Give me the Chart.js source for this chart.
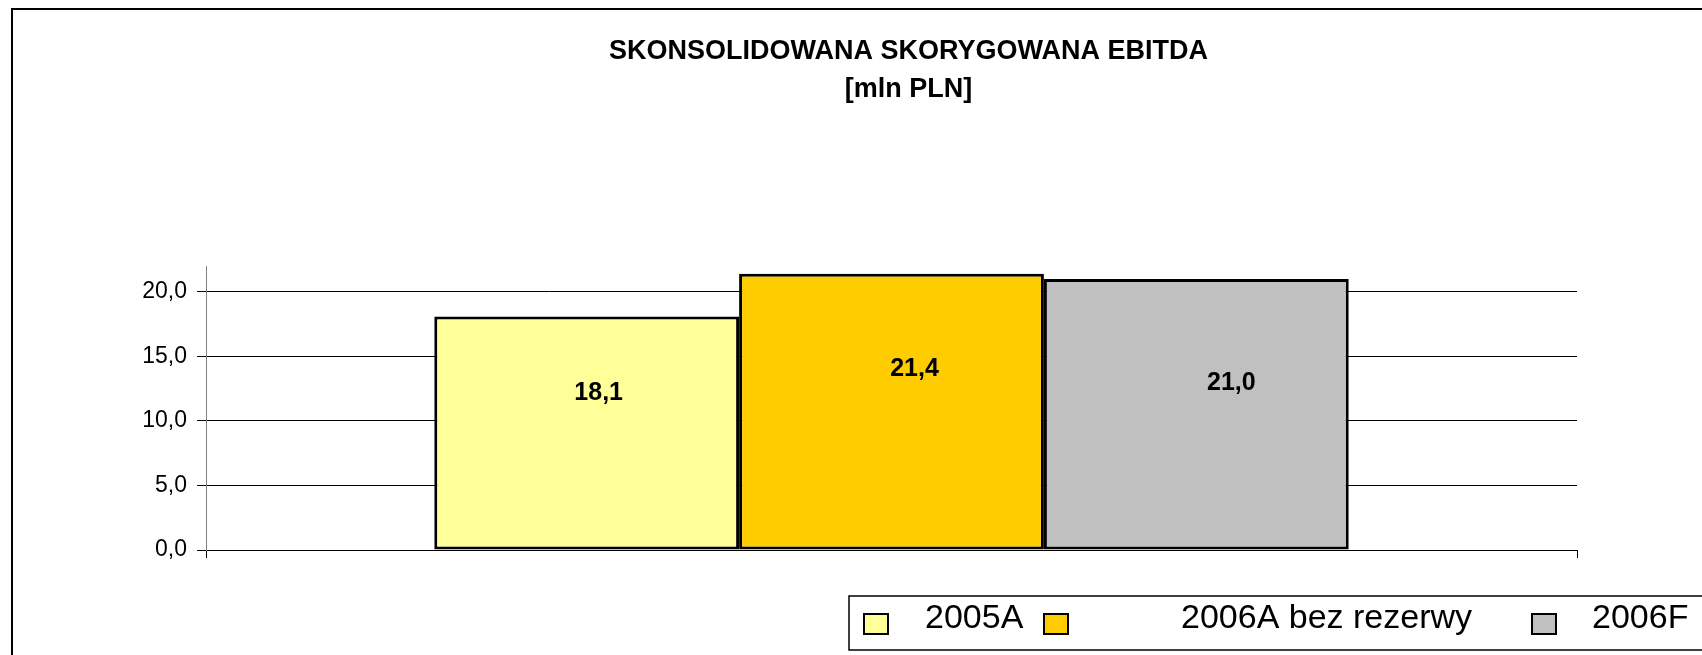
<!DOCTYPE html>
<html>
<head>
<meta charset="utf-8">
<script src="https://cdn.jsdelivr.net/npm/chart.js@4/dist/chart.umd.min.js"></script>
<style>
    html, body { margin: 0; padding: 0; background: #fff; overflow: hidden; }
    #frame {
        position: absolute; left: 11px; top: 8px;
        border-top: 2px solid #000; border-left: 2px solid #000;
        width: 1791px; height: 700px;
    }
    #ebitdaChart { display: block; }
</style>
</head>
<body>
<div id="frame"><canvas id="ebitdaChart" width="1791" height="700"></canvas></div>
<script>
// --- Data ---
const categories = [''];
const seriesNames = ['2005A', '2006A bez rezerwy', '2006F'];
const seriesValues = [18.1, 21.4, 21.0];
const seriesColors = ['#FFFF99', '#FFCC00', '#C0C0C0'];
const titleLines = ['SKONSOLIDOWANA SKORYGOWANA EBITDA', '[mln PLN]'];
const yMax = 22;
const yStep = 5;

const FONT = '"Liberation Sans", Arial, sans-serif';
const fmt = v => v.toFixed(1).replace('.', ',');

// value labels inside the bars (the original ones were nudged by hand)
const valueLabels = {
    id: 'valueLabels',
    afterDatasetsDraw(chart) {
        const ctx = chart.ctx;
        const nudge = [[12, 0], [23, -3], [35, 9]];
        ctx.save();
        ctx.font = 'bold 25px ' + FONT;
        ctx.fillStyle = '#000';
        ctx.textAlign = 'center';
        ctx.textBaseline = 'middle';
        chart.data.datasets.forEach((ds, i) => {
            const bar = chart.getDatasetMeta(i).data[0];
            const [dx, dy] = nudge[i] || [0, 0];
            ctx.fillText(fmt(ds.data[0]), bar.x + dx, (bar.y + bar.base) / 2 - 40 + dy);
        });
        ctx.restore();
    }
};

// legend box at the bottom, as in the original spreadsheet chart
const boxLegend = {
    id: 'boxLegend',
    afterDraw(chart) {
        const ctx = chart.ctx;
        const squareX = [851, 1031, 1519];
        const textX = [912, 1168, 1579];
        ctx.save();
        ctx.strokeStyle = '#000';
        ctx.lineWidth = 1.5;
        ctx.strokeRect(836, 586, 1000, 54);
        ctx.font = '34px ' + FONT;
        ctx.textBaseline = 'middle';
        ctx.textAlign = 'left';
        chart.data.datasets.forEach((ds, i) => {
            ctx.fillStyle = ds.backgroundColor;
            ctx.fillRect(squareX[i], 604, 24, 20);
            ctx.lineWidth = 2;
            ctx.strokeRect(squareX[i], 604, 24, 20);
            ctx.fillStyle = '#000';
            ctx.fillText(ds.label, textX[i], 609);
        });
        ctx.restore();
    }
};

const ctx = document.getElementById('ebitdaChart').getContext('2d');
new Chart(ctx, {
    type: 'bar',
    data: {
        labels: categories,
        datasets: seriesNames.map((name, i) => ({
            label: name,
            data: [seriesValues[i]],
            backgroundColor: seriesColors[i],
            borderColor: '#000',
            borderWidth: 3,
            borderSkipped: false,
            categoryPercentage: 0.667,
            barPercentage: 1.0
        }))
    },
    options: {
        responsive: false,
        animation: false,
        layout: { padding: { left: 0, right: 0, top: 0, bottom: 140 } },
        plugins: {
            legend: { display: false },
            tooltip: { enabled: false },
            title: {
                display: true,
                text: titleLines,
                color: '#000',
                font: { family: FONT, size: 27, weight: 'bold', lineHeight: 1.39 },
                padding: { top: 23, bottom: 158 }
            }
        },
        scales: {
            x: {
                ticks: { display: false },
                grid: { drawOnChartArea: false, drawTicks: true, tickLength: 8, color: '#000', offset: true },
                border: { display: true, color: '#000', width: 1 },
                afterFit: s => { s.height = 20; }
            },
            y: {
                min: 0,
                max: yMax,
                ticks: {
                    stepSize: yStep,
                    padding: 10,
                    color: '#000',
                    font: { family: FONT, size: 23 },
                    callback: v => fmt(v)
                },
                afterBuildTicks: s => { s.ticks = s.ticks.filter(t => t.value % yStep === 0); },
                grid: { color: '#000', lineWidth: 1, drawTicks: true, tickLength: 9 },
                border: { display: true, color: '#808080', width: 1 },
                afterFit: s => { s.width = 193; }
            },
            // empty spacer on the right so the title stays centred on the whole frame
            y2: {
                type: 'linear',
                position: 'right',
                ticks: { display: false },
                grid: { display: false },
                border: { display: false },
                afterFit: s => { s.width = 227; }
            }
        }
    },
    plugins: [valueLabels, boxLegend]
});
</script>
</body>
</html>
